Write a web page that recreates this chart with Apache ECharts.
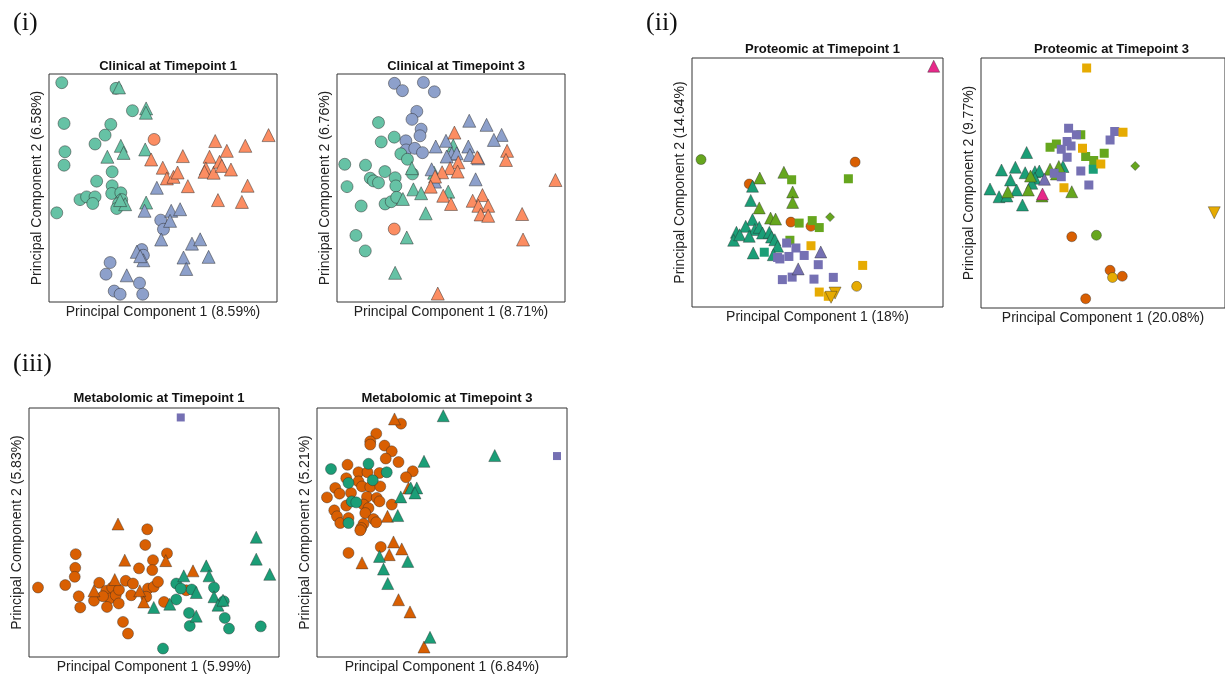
<!DOCTYPE html>
<html><head><meta charset="utf-8">
<script src="https://cdn.jsdelivr.net/npm/echarts@6/dist/echarts.min.js"></script>
<style>html,body{margin:0;padding:0;background:#fff}#c{width:1225px;height:675px}</style>
</head><body><div id="c"></div>
<script>
// ---------- Panel titles / labels ----------
const panelTitles = ["Clinical at Timepoint 1","Clinical at Timepoint 3","Proteomic at Timepoint 1","Proteomic at Timepoint 3","Metabolomic at Timepoint 1","Metabolomic at Timepoint 3"];
const xNames = ["Principal Component 1 (8.59%)","Principal Component 1 (8.71%)","Principal Component 1 (18%)","Principal Component 1 (20.08%)","Principal Component 1 (5.99%)","Principal Component 1 (6.84%)"];
const yNames = ["Principal Component 2 (6.58%)","Principal Component 2 (6.76%)","Principal Component 2 (14.64%)","Principal Component 2 (9.77%)","Principal Component 2 (5.83%)","Principal Component 2 (5.21%)"];
const sectionLabels = ["(i)","(ii)","(iii)"];

// ---------- Clinical T1 (PC scores rescaled 0-100) ----------
const clin1_green_circle = [[5.6,96.2],[6.6,78.3],[7.0,65.9],[6.6,60.0],[3.4,39.1],[27.1,77.9],[24.6,73.2],[20.2,69.3],[36.6,83.9],[27.7,57.1],[20.9,53.0],[27.7,51.0],[27.5,47.6],[13.6,44.9],[16.5,46.1],[20.2,46.1],[19.2,43.2],[31.5,47.9],[31.9,44.9],[30.5,43.2],[29.7,41.0],[29.4,93.7]];
const clin1_green_tri = [[30.7,94.1],[42.6,84.9],[42.5,83.0],[31.5,68.5],[32.7,65.4],[25.6,63.7],[42.2,66.9],[42.6,43.6],[33.4,42.9],[31.2,44.7]];
const clin1_orange_circle = [[46.1,71.3]];
const clin1_orange_tri = [[44.8,62.5],[49.9,58.9],[51.7,54.2],[54.6,54.9],[56.4,56.8],[58.7,64.0],[60.9,50.8],[72.9,70.6],[70.4,63.7],[68.8,58.6],[68.2,57.1],[72.2,56.7],[74.8,61.5],[75.8,59.7],[78.0,66.3],[79.8,58.1],[86.1,68.5],[96.3,73.2],[87.1,51.0],[74.1,44.7],[84.6,43.9]];
const clin1_blue_circle = [[49.0,35.9],[50.2,31.9],[40.7,23.0],[41.4,20.5],[26.8,17.3],[25.0,12.2],[39.7,8.3],[28.6,4.8],[31.2,3.4],[41.1,3.4]];
const clin1_blue_tri = [[47.3,50.1],[41.9,40.0],[53.6,40.0],[57.5,40.7],[53.1,35.6],[49.2,27.4],[62.7,25.6],[66.3,27.5],[38.5,22.0],[41.4,18.3],[59.0,19.5],[70.0,19.8],[60.2,14.5],[34.1,11.7],[40.0,20.1]];

// ---------- Clinical T3 ----------
const clin3_blue_circle = [[25.2,95.9],[37.9,96.3],[28.7,92.7],[42.7,92.2],[35.0,83.6],[32.9,80.1],[36.9,75.8],[36.4,72.9],[30.2,70.7],[30.3,66.7],[34.1,67.4],[37.5,65.5]];
const clin3_green_circle = [[18.2,78.7],[19.4,70.2],[25.1,72.3],[3.4,60.4],[12.5,60.0],[28.0,65.0],[30.9,62.6],[21.0,57.2],[14.6,54.3],[16.0,53.1],[18.2,52.3],[25.5,54.5],[25.8,50.9],[4.4,50.6],[10.6,42.1],[21.1,43.0],[23.8,44.0],[26.2,45.9],[8.3,29.2],[12.4,22.4],[33.1,56.2]];
const clin3_green_tri = [[32.8,58.7],[33.5,49.4],[36.9,47.7],[28.9,45.2],[38.9,38.9],[51.0,68.6],[48.8,48.4],[42.6,56.7],[30.6,28.3],[25.5,12.8]];
const clin3_orange_circle = [[25.1,32.0]];
const clin3_orange_tri = [[51.5,74.3],[74.6,66.3],[74.1,62.3],[61.5,63.5],[53.2,61.3],[49.6,58.7],[46.1,56.9],[43.0,55.0],[52.9,57.2],[41.1,50.6],[46.6,46.6],[50.0,43.0],[59.5,44.4],[63.8,46.9],[62.0,42.2],[66.3,42.2],[63.0,38.4],[66.3,37.8],[81.2,38.6],[81.6,27.4],[95.8,53.5],[44.2,3.7]];
const clin3_blue_tri = [[58.0,79.5],[65.6,77.7],[72.2,73.3],[68.8,71.1],[47.8,70.7],[43.3,68.2],[50.3,65.0],[52.5,65.2],[57.6,68.2],[58.3,64.5],[62.0,63.0],[48.1,63.8],[41.5,58.2],[43.0,52.8],[60.8,53.8]];

// ---------- Proteomic T1 ----------
const prot1_pink_tri = [[96.3,96.7]];
const prot1_green_circle = [[3.6,59.2]];
const prot1_orange_circle = [[65.0,58.2],[22.8,49.4],[39.4,34.1],[47.4,32.4]];
const prot1_green_square = [[39.7,51.1],[62.3,51.5],[42.7,33.7],[47.9,34.7],[50.7,31.9],[39.0,26.8]];
const prot1_green_diamond = [[55.0,36.1]];
const prot1_green_tri = [[27.0,51.8],[36.6,54.1],[40.1,46.2],[40.1,42.0],[26.8,39.8],[31.3,35.7],[33.3,35.3]];
const prot1_teal_tri = [[24.1,48.5],[23.4,42.8],[24.1,35.1],[21.4,32.4],[17.7,30.0],[16.6,26.8],[19.0,29.0],[25.0,31.1],[22.8,28.4],[26.8,32.0],[28.1,29.7],[30.8,30.0],[31.7,28.1],[33.0,27.0],[34.1,24.4],[24.4,21.7],[32.4,21.0]];
const prot1_teal_square = [[28.8,22.0]];
const prot1_purple_square = [[37.7,25.7],[41.4,23.7],[34.1,19.9],[35.0,19.3],[38.6,20.3],[44.7,20.7],[50.3,17.0],[36.0,11.0],[39.9,12.0],[48.6,11.2],[56.3,11.9]];
const prot1_purple_tri = [[51.3,22.1],[42.3,15.3]];
const prot1_yellow_square = [[47.4,24.6],[68.0,16.7],[50.7,6.0],[54.3,4.3]];
const prot1_yellow_invtri = [[57.0,5.6],[55.4,3.9]];
const prot1_yellow_circle = [[65.6,8.3]];

// ---------- Proteomic T3 ----------
const prot3_teal_tri = [[18.7,62.2],[8.4,55.2],[14.1,56.3],[18.1,54.1],[12.1,51.2],[3.7,47.6],[7.4,44.5],[10.6,44.8],[14.6,47.2],[17.0,41.2],[22.1,54.5],[23.9,54.8],[22.1,51.9],[20.8,49.9],[33.6,56.6]];
const prot3_green_tri = [[20.3,52.8],[19.4,47.2],[11.0,46.5],[28.3,55.5],[31.9,56.6],[37.2,46.5],[25.0,44.8],[30.9,53.6]];
const prot3_pink_tri = [[25.2,45.6]];
const prot3_purple_tri = [[26.0,51.5]];
const prot3_green_square = [[40.9,69.3],[28.3,64.3],[30.9,65.6],[42.9,60.6],[46.2,59.0],[50.5,61.9]];
const prot3_purple_square = [[35.9,71.9],[39.1,69.3],[35.3,66.6],[36.9,64.8],[32.9,63.5],[35.3,60.3],[54.8,70.6],[52.9,67.2],[40.9,54.8],[30.0,53.9],[32.9,52.5],[44.2,49.2]];
const prot3_teal_square = [[46.0,55.5]];
const prot3_yellow_square = [[43.3,96.0],[58.2,70.3],[41.6,63.9],[49.1,57.6],[34.0,48.1]];
const prot3_green_diamond = [[63.2,56.8]];
const prot3_yellow_invtri = [[95.6,38.1]];
const prot3_orange_circle = [[37.2,28.5],[52.9,15.1],[57.9,12.7],[42.9,3.7]];
const prot3_green_circle = [[47.3,29.1]];
const prot3_yellow_circle = [[53.9,12.2]];

// ---------- Metabolomic T1 ----------
const met1_purple_square = [[60.7,96.2]];
const met1_orange_circle = [[3.6,27.9],[14.5,28.9],[18.7,41.3],[18.5,35.8],[18.3,32.2],[19.9,24.4],[20.5,19.9],[28.1,29.8],[26.0,22.6],[30.9,26.6],[32.3,23.5],[31.2,20.1],[33.3,27.9],[34.7,24.8],[35.9,21.5],[37.6,14.1],[39.6,9.4],[38.7,30.6],[41.6,29.5],[40.9,24.8],[44.0,35.6],[46.5,45.0],[47.3,51.3],[49.6,38.9],[49.3,34.9],[47.6,27.5],[49.9,28.2],[51.6,30.2],[46.9,24.2],[55.2,41.6],[54.0,22.1],[62.9,26.8],[29.6,24.4],[36.0,27.0]];
const met1_orange_tri = [[35.6,53.4],[38.3,38.9],[54.7,38.7],[34.3,31.1],[26.0,26.6],[44.3,26.6],[45.9,22.1],[65.6,34.6]];
const met1_teal_circle = [[58.9,29.5],[60.7,27.5],[65.1,27.1],[58.9,23.1],[74.0,27.9],[77.9,22.4],[64.0,17.7],[64.3,12.5],[78.3,15.7],[80.0,11.4],[92.7,12.3],[53.6,3.4]];
const met1_teal_tri = [[61.9,32.6],[70.9,36.6],[72.0,32.6],[66.9,25.9],[74.0,24.2],[75.6,20.8],[77.6,22.8],[49.9,19.9],[56.3,21.2],[66.9,16.4],[90.9,48.1],[90.9,39.3],[96.3,33.2]];

// ---------- Metabolomic T3 ----------
const met3_purple_square = [[96.0,80.7]];
const met3_orange_circle = [[33.6,93.7],[23.7,89.7],[21.3,86.6],[21.3,85.3],[27.0,84.9],[29.9,82.6],[27.5,79.7],[32.6,78.3],[12.2,77.2],[16.6,74.2],[20.2,74.2],[25.0,73.9],[38.3,74.6],[35.6,72.2],[11.7,71.8],[16.6,70.5],[18.0,68.5],[21.3,68.3],[25.3,68.5],[7.3,67.9],[9.0,65.6],[4.0,64.1],[13.6,65.9],[20.0,64.3],[23.9,63.9],[25.0,62.5],[29.9,61.2],[11.7,60.8],[18.6,61.2],[20.6,59.8],[6.9,58.9],[8.0,56.5],[9.3,53.8],[12.6,55.8],[19.3,57.8],[22.6,55.4],[23.7,54.1],[18.6,53.5],[17.7,51.8],[17.3,50.9],[25.5,44.2],[12.6,41.8]];
const met3_teal_circle = [[5.6,75.5],[20.6,77.6],[27.9,74.2],[22.3,71.0],[12.6,69.9],[13.9,62.5],[15.7,62.1],[12.6,53.8]];
const met3_orange_tri = [[31.0,95.6],[36.6,67.9],[28.2,56.5],[30.6,46.2],[33.9,43.4],[28.9,41.1],[18.0,37.8],[32.6,23.0],[37.2,18.1],[42.8,4.0]];
const met3_teal_tri = [[50.5,96.9],[71.1,80.9],[42.8,78.6],[37.5,67.9],[39.9,67.9],[39.2,65.9],[33.5,64.3],[32.3,56.8],[25.0,40.4],[26.6,35.3],[28.3,29.5],[36.3,38.4],[45.2,7.9]];

// ---------- styling ----------
const C = {s2green:'#66C2A5', s2orange:'#FC8D62', s2blue:'#8DA0CB',
  teal:'#1B9E77', orange:'#D95F02', purple:'#7570B3', pink:'#E7298A', green:'#66A61E', yellow:'#E6AB02'};
const INV = 'path://M0,0 L10,0 L5,8.7 Z';
const grids = [
  {left:49, top:74, width:228, height:228},
  {left:337, top:74, width:228, height:228},
  {left:692, top:58, width:251, height:249},
  {left:981, top:58, width:251, height:250},
  {left:29, top:408, width:250, height:249},
  {left:317, top:408, width:250, height:249}
];
function sc(p, data, color, shape, size, bw){
  let symbol = shape==='circle'?'circle':shape==='tri'?'triangle':shape==='square'?'rect':shape==='diamond'?'diamond':INV;
  return {type:'scatter', xAxisIndex:p, yAxisIndex:p, data:data, symbol:symbol, symbolSize:size,
    itemStyle:{color:color, borderColor: bw>0?'rgba(40,40,40,0.8)':color, borderWidth:bw, opacity:1},
    emphasis:{disabled:true}, animation:false, z:3};
}
const series = [
  sc(0,clin1_green_circle,C.s2green,'circle',12,0.6),
  sc(0,clin1_green_tri,C.s2green,'tri',13,0.6),
  sc(0,clin1_orange_circle,C.s2orange,'circle',12,0.6),
  sc(0,clin1_orange_tri,C.s2orange,'tri',13,0.6),
  sc(0,clin1_blue_circle,C.s2blue,'circle',12,0.6),
  sc(0,clin1_blue_tri,C.s2blue,'tri',13,0.6),

  sc(1,clin3_blue_circle,C.s2blue,'circle',12,0.6),
  sc(1,clin3_green_circle,C.s2green,'circle',12,0.6),
  sc(1,clin3_green_tri,C.s2green,'tri',13,0.6),
  sc(1,clin3_orange_circle,C.s2orange,'circle',12,0.6),
  sc(1,clin3_blue_tri,C.s2blue,'tri',13,0.6),
  sc(1,clin3_orange_tri,C.s2orange,'tri',13,0.6),

  sc(2,prot1_pink_tri,C.pink,'tri',12,0.5),
  sc(2,prot1_green_circle,C.green,'circle',10,0.5),
  sc(2,prot1_orange_circle,C.orange,'circle',10,0.5),
  sc(2,prot1_green_tri,C.green,'tri',12,0.5),
  sc(2,prot1_teal_tri,C.teal,'tri',12,0.5),
  sc(2,prot1_green_square,C.green,'square',9,0),
  sc(2,prot1_green_diamond,C.green,'diamond',9,0.5),
  sc(2,prot1_teal_square,C.teal,'square',9,0),
  sc(2,prot1_purple_square,C.purple,'square',9,0),
  sc(2,prot1_purple_tri,C.purple,'tri',12,0.5),
  sc(2,prot1_yellow_square,C.yellow,'square',9,0),
  sc(2,prot1_yellow_invtri,C.yellow,'inv',12,0.5),
  sc(2,prot1_yellow_circle,C.yellow,'circle',10,0.5),

  sc(3,prot3_teal_tri,C.teal,'tri',12,0.5),
  sc(3,prot3_green_tri,C.green,'tri',12,0.5),
  sc(3,prot3_pink_tri,C.pink,'tri',12,0.5),
  sc(3,prot3_purple_tri,C.purple,'tri',12,0.5),
  sc(3,prot3_green_square,C.green,'square',9,0),
  sc(3,prot3_purple_square,C.purple,'square',9,0),
  sc(3,prot3_teal_square,C.teal,'square',9,0),
  sc(3,prot3_yellow_square,C.yellow,'square',9,0),
  sc(3,prot3_green_diamond,C.green,'diamond',9,0.5),
  sc(3,prot3_yellow_invtri,C.yellow,'inv',12,0.5),
  sc(3,prot3_orange_circle,C.orange,'circle',10,0.5),
  sc(3,prot3_green_circle,C.green,'circle',10,0.5),
  sc(3,prot3_yellow_circle,C.yellow,'circle',10,0.5),

  sc(4,met1_purple_square,C.purple,'square',8,0),
  sc(4,met1_orange_circle,C.orange,'circle',11,0.5),
  sc(4,met1_orange_tri,C.orange,'tri',12,0.5),
  sc(4,met1_teal_circle,C.teal,'circle',11,0.5),
  sc(4,met1_teal_tri,C.teal,'tri',12,0.5),

  sc(5,met3_purple_square,C.purple,'square',8,0),
  sc(5,met3_orange_circle,C.orange,'circle',11,0.5),
  sc(5,met3_teal_circle,C.teal,'circle',11,0.5),
  sc(5,met3_orange_tri,C.orange,'tri',12,0.5),
  sc(5,met3_teal_tri,C.teal,'tri',12,0.5)
];

const FONT = '"Liberation Sans", Arial, Helvetica, sans-serif';
const titleTops = [55,55,38,38,387,387];
const option = {
  backgroundColor:'#fff',
  animation:false,
  textStyle:{fontFamily:FONT},
  grid: grids.map(g=>Object.assign({show:true, borderColor:'#333', borderWidth:1, backgroundColor:'transparent', containLabel:false}, g)),
  xAxis: grids.map((g,i)=>({gridIndex:i, type:'value', min:0, max:100, name:xNames[i], nameLocation:'middle', nameGap:3,
    nameTextStyle:{fontSize:14, color:'#222', fontFamily:FONT, verticalAlign:'top'},
    axisLine:{show:false}, axisTick:{show:false}, axisLabel:{show:false}, splitLine:{show:false}})),
  yAxis: grids.map((g,i)=>({gridIndex:i, type:'value', min:0, max:100, name:yNames[i], nameLocation:'middle', nameGap:5, nameRotate:90,
    nameTextStyle:{fontSize:14, color:'#222', fontFamily:FONT, verticalAlign:'bottom'},
    axisLine:{show:false}, axisTick:{show:false}, axisLabel:{show:false}, splitLine:{show:false}})),
  title: grids.map((g,i)=>({text:panelTitles[i], left:g.left+g.width/2, top:titleTops[i], textAlign:'center',
    textStyle:{fontSize:13, fontWeight:'bold', color:'#111', fontFamily:FONT}})).concat([
    {text:sectionLabels[0], left:8, top:5, textStyle:{fontSize:26, fontWeight:'normal', color:'#111', fontFamily:'"Liberation Serif","DejaVu Serif",serif'}},
    {text:sectionLabels[1], left:641, top:5, textStyle:{fontSize:26, fontWeight:'normal', color:'#111', fontFamily:'"Liberation Serif","DejaVu Serif",serif'}},
    {text:sectionLabels[2], left:8, top:346, textStyle:{fontSize:26, fontWeight:'normal', color:'#111', fontFamily:'"Liberation Serif","DejaVu Serif",serif'}}
  ]),
  series: series
};
const chart = echarts.init(document.getElementById('c'), null, {renderer:'canvas'});
chart.setOption(option);
</script></body></html>
